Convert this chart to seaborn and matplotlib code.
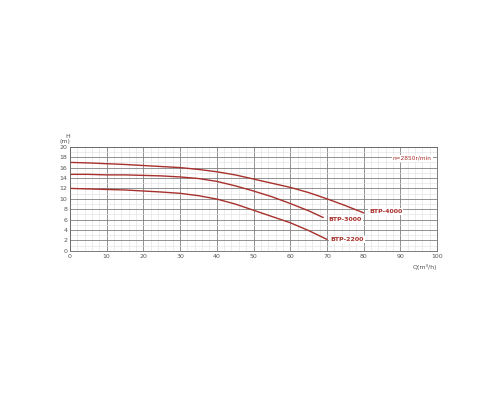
import numpy as np
import pandas as pd
import matplotlib
matplotlib.use("Agg")
import matplotlib.pyplot as plt
import seaborn as sns

# Curve data (flow Q in m3/h, head H in m)
q_4000 = [0, 5, 10, 15, 20, 25, 30, 35, 40, 45, 50, 55, 60, 65, 70, 75, 80]
h_4000 = [17.0, 16.9, 16.75, 16.6, 16.4, 16.2, 16.0, 15.65, 15.2, 14.6, 13.8, 13.0, 12.2, 11.2, 10.0, 8.7, 7.3]
q_3000 = [0, 5, 10, 15, 20, 25, 30, 35, 40, 45, 50, 55, 60, 65, 69]
h_3000 = [14.7, 14.7, 14.6, 14.6, 14.5, 14.4, 14.2, 13.9, 13.35, 12.5, 11.5, 10.4, 9.1, 7.7, 6.4]
q_2200 = [0, 5, 10, 15, 20, 25, 30, 35, 40, 45, 50, 55, 60, 65, 70]
h_2200 = [12.0, 11.9, 11.8, 11.7, 11.5, 11.3, 11.05, 10.6, 9.95, 9.0, 7.8, 6.6, 5.4, 3.9, 2.2]

models = ["BTP-4000", "BTP-3000", "BTP-2200"]
label_pos = [(81.5, 7.5), (70.5, 6.1), (71.0, 2.2)]

df = pd.concat([
    pd.DataFrame({"Q": q_4000, "H": h_4000, "model": models[0]}),
    pd.DataFrame({"Q": q_3000, "H": h_3000, "model": models[1]}),
    pd.DataFrame({"Q": q_2200, "H": h_2200, "model": models[2]}),
])

sns.set_style("white")
fig = plt.figure(figsize=(5, 4), dpi=100)
ax = fig.add_axes([0.14, 0.373, 0.734, 0.26])

red = "#a8302c"
sns.lineplot(data=df, x="Q", y="H", hue="model", palette=[red] * 3,
             legend=False, ax=ax, linewidth=1.0)

ax.set_xlim(0, 100)
ax.set_ylim(0, 20)
ax.set_xticks(np.arange(0, 101, 10))
ax.set_yticks(np.arange(0, 21, 2))
ax.set_xticks(np.arange(0, 101, 2), minor=True)
ax.set_yticks(np.arange(0, 21, 1), minor=True)
ax.grid(which="major", color="#808080", linewidth=0.6)
ax.grid(which="minor", color="#dddddd", linewidth=0.4)
ax.set_axisbelow(True)
ax.tick_params(which="both", length=0, labelsize=4.5, colors="#555555", pad=2)
for s in ax.spines.values():
    s.set_color("#666666")
    s.set_linewidth(0.6)

ax.set_xlabel("")
ax.set_ylabel("")
ax.text(0.0, 1.03, "H\n(m)", transform=ax.transAxes, fontsize=4.5,
        color="#555555", ha="right", va="bottom", linespacing=1.0)
ax.text(1.0, -0.13, "Q(m³/h)", transform=ax.transAxes, fontsize=4.5,
        color="#555555", ha="right", va="top")

for name, (x, y) in zip(models, label_pos):
    ax.text(x, y, name, fontsize=4.5, color=red, fontweight="bold",
            ha="left", va="center",
            bbox=dict(facecolor="white", edgecolor="none", pad=0.8))
ax.text(88, 17.8, "n=2850r/min", fontsize=4.2, color=red,
        ha="left", va="center",
        bbox=dict(facecolor="white", edgecolor="none", pad=0.8))

fig.savefig("out.png", dpi=100)
